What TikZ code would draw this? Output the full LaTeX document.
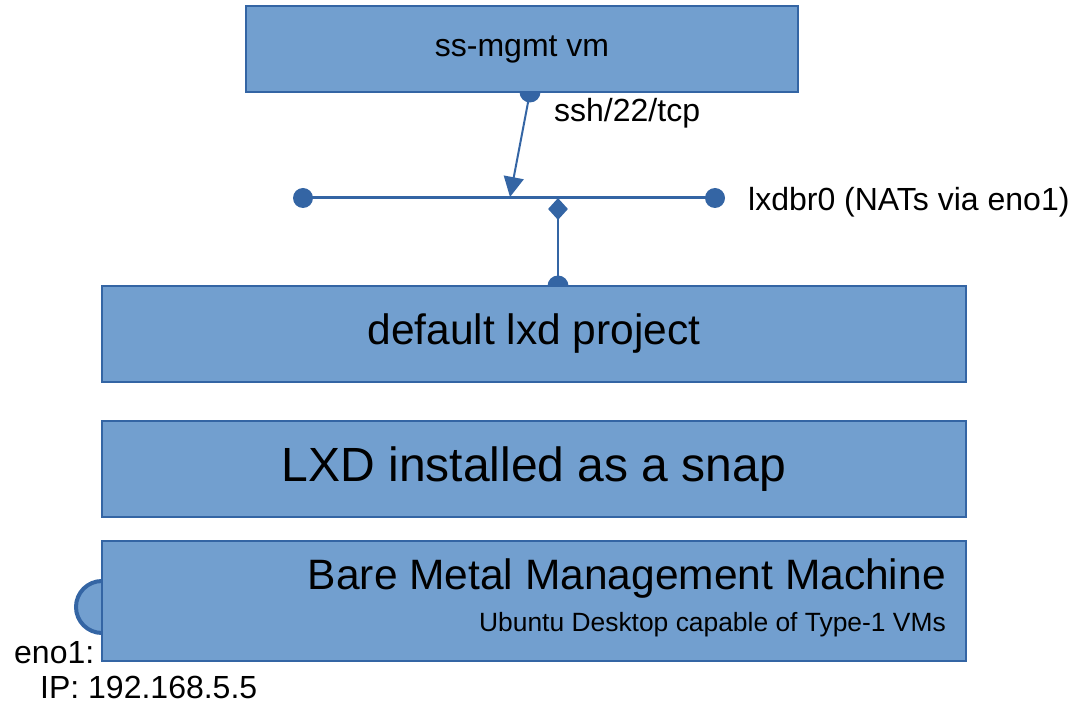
\documentclass[tikz,border=0pt]{standalone}
\usepackage{fontspec}
\setmainfont{Liberation Sans}
\usetikzlibrary{arrows.meta,shapes.geometric}
\definecolor{boxfill}{HTML}{729FCF}
\definecolor{boxline}{HTML}{3465A4}
\begin{document}
\begin{tikzpicture}[x=1pt,y=-1pt,
  box/.style={draw=boxline,line width=1.5pt,fill=boxfill,inner sep=0pt},
  dot/.style={circle,fill=boxline,inner sep=0pt,minimum size=20pt},
  port/.style={fill=boxline},
  wire/.style={draw=boxline,line width=2pt},
  lbl/.style={inner sep=0pt,font=\fontsize{32}{36}\selectfont}]
\useasboundingbox (0,0) rectangle (1072,708);
% ports behind boxes
\fill[port] (530,92) circle (10.5);
\fill[port] (558,286) circle (10.5);
\draw[draw=boxline,fill=boxfill,line width=4pt] (102,607) circle (26);
% boxes
\node[box,minimum width=552pt,minimum height=86pt,font=\fontsize{32}{36}\selectfont] (vm) at (522,49) {ss-mgmt vm};
\node[box,minimum width=864pt,minimum height=96pt,font=\fontsize{42.5}{48}\selectfont] (proj) at (534,334) {default lxd project};
\node[box,minimum width=864pt,minimum height=96pt,font=\fontsize{48}{54}\selectfont] (snap) at (534,469) {LXD installed as a snap};
\node[box,minimum width=864pt,minimum height=120pt] (bare) at (534,601) {};
\node[inner sep=0pt,anchor=base east,font=\fontsize{42.5}{48}\selectfont] (baret) at (946,590) {Bare Metal Management Machine};
\node[inner sep=0pt,anchor=base east,font=\fontsize{26.4}{30}\selectfont] (bares) at (946,631) {Ubuntu Desktop capable of Type-1 VMs};
% bus
\node[dot] (bl) at (303,198) {};
\node[dot] (br) at (715,198) {};
\draw[boxline,line width=3pt] (bl.center) -- (br.center);
\coordinate (vmport) at (530,92);
\coordinate (busin) at (510,197);
\draw[wire,-{Triangle[length=20pt,width=20pt]}] (vmport) -- (busin);
\node[diamond,fill=boxline,inner sep=0pt,minimum width=20pt,minimum height=22pt] (dia) at (558,209) {};
\coordinate (projport) at (558,286);
\draw[wire] (dia.center) -- (projport);
% labels
\node[lbl,anchor=base west] (sshl) at (554,122) {ssh/22/tcp};
\node[lbl,anchor=base west] (busl) at (748,211) {lxdbr0 (NATs via eno1)};
\node[lbl,anchor=base west] (enol) at (14,663) {eno1:};
\node[lbl,anchor=base west] (ipl) at (40,698) {IP: 192.168.5.5};
\end{tikzpicture}
\end{document}
